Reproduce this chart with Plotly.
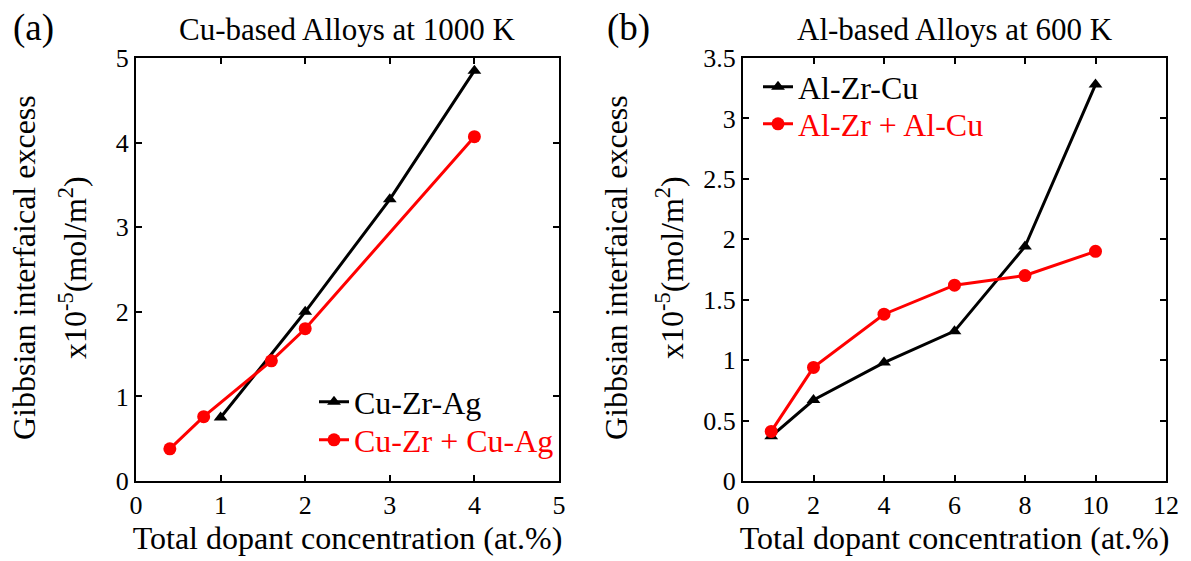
import plotly.graph_objects as go

# ---- data ----
cu_ternary_x = [1, 2, 3, 4]
cu_ternary_y = [0.75, 2.0, 3.33, 4.85]
cu_binary_x = [0.4, 0.8, 1.6, 2, 4]
cu_binary_y = [0.38, 0.76, 1.42, 1.80, 4.07]

al_ternary_x = [0.8, 2, 4, 6, 8, 10]
al_ternary_y = [0.37, 0.67, 0.98, 1.24, 1.94, 3.28]
al_binary_x = [0.8, 2, 4, 6, 8, 10]
al_binary_y = [0.41, 0.94, 1.38, 1.62, 1.70, 1.90]

W, H = 1191, 561
FONT = "'Liberation Serif', 'Times New Roman', Times, serif"
BLACK = "#000000"
RED = "#ff0000"

def px(x):
    return x / W

def py(y):
    return 1 - y / H

fig = go.Figure()

fig.add_trace(go.Scatter(x=cu_ternary_x, y=cu_ternary_y, mode="lines+markers",
                         name="Cu-Zr-Ag", line=dict(color=BLACK, width=3),
                         marker=dict(symbol="triangle-up", size=12, color=BLACK),
                         xaxis="x", yaxis="y", legend="legend"))
fig.add_trace(go.Scatter(x=cu_binary_x, y=cu_binary_y, mode="lines+markers",
                         name="<span style='color:#ff0000'>Cu-Zr + Cu-Ag</span>",
                         line=dict(color=RED, width=3),
                         marker=dict(symbol="circle", size=13, color=RED),
                         xaxis="x", yaxis="y", legend="legend2"))
fig.add_trace(go.Scatter(x=al_ternary_x, y=al_ternary_y, mode="lines+markers",
                         name="Al-Zr-Cu", line=dict(color=BLACK, width=3),
                         marker=dict(symbol="triangle-up", size=12, color=BLACK),
                         xaxis="x2", yaxis="y2", legend="legend3"))
fig.add_trace(go.Scatter(x=al_binary_x, y=al_binary_y, mode="lines+markers",
                         name="<span style='color:#ff0000'>Al-Zr + Al-Cu</span>",
                         line=dict(color=RED, width=3),
                         marker=dict(symbol="circle", size=13, color=RED),
                         xaxis="x2", yaxis="y2", legend="legend4"))

axis_common = dict(showline=True, linecolor=BLACK, linewidth=2, mirror="allticks",
                   ticks="inside", ticklen=6, tickwidth=2, tickcolor=BLACK,
                   showgrid=False, zeroline=False, automargin=False,
                   tickfont=dict(family=FONT, size=26, color=BLACK))

ydom = [py(481), py(58)]

def leg(xpix, ypix):
    return dict(x=px(xpix), y=py(ypix), xanchor="left", yanchor="middle",
                bgcolor="rgba(0,0,0,0)", borderwidth=0,
                font=dict(family=FONT, size=32, color=BLACK),
                itemwidth=30)

fig.update_layout(
    width=W, height=H,
    margin=dict(l=0, r=0, t=0, b=0, autoexpand=False),
    paper_bgcolor="white", plot_bgcolor="white",
    font=dict(family=FONT, color=BLACK),
    xaxis=dict(domain=[px(136), px(559)], range=[0, 5], dtick=1, anchor="y",
               title=dict(text="Total dopant concentration (at.%)",
                          font=dict(family=FONT, size=32), standoff=4),
               **axis_common),
    yaxis=dict(domain=ydom, range=[0, 5], dtick=1, anchor="x", **axis_common),
    xaxis2=dict(domain=[px(743), px(1166)], range=[0, 12], dtick=2, anchor="y2",
                title=dict(text="Total dopant concentration (at.%)",
                           font=dict(family=FONT, size=32), standoff=4),
                **axis_common),
    yaxis2=dict(domain=ydom, range=[0, 3.5], dtick=0.5, anchor="x2", **axis_common),
    legend=leg(314, 402),
    legend2=leg(314, 440),
    legend3=leg(758, 87),
    legend4=leg(758, 124),
    showlegend=True,
)

annotations = [
    dict(text="Cu-based Alloys at 1000 K", x=px(347), y=py(30)),
    dict(text="Al-based Alloys at 600 K", x=px(955), y=py(30)),
]
for a in annotations:
    a.update(xref="paper", yref="paper", showarrow=False, xanchor="center", yanchor="middle",
             font=dict(family=FONT, size=31, color=BLACK))

panel_labels = [
    dict(text="(a)", x=px(33), y=py(28)),
    dict(text="(b)", x=px(628), y=py(28)),
]
for a in panel_labels:
    a.update(xref="paper", yref="paper", showarrow=False, xanchor="center", yanchor="middle",
             font=dict(family=FONT, size=37, color=BLACK))

ytitles = [
    dict(text="Gibbsian interfaical excess", x=px(24), y=py(268)),
    dict(text="x10<sup>-5</sup>(mol/m<sup>2</sup>)", x=px(73), y=py(268)),
    dict(text="Gibbsian interfaical excess", x=px(616), y=py(268)),
    dict(text="x10<sup>-5</sup>(mol/m<sup>2</sup>)", x=px(670), y=py(268)),
]
for a in ytitles:
    a.update(xref="paper", yref="paper", showarrow=False, xanchor="center", yanchor="middle",
             textangle=-90, font=dict(family=FONT, size=32, color=BLACK))

fig.update_layout(annotations=annotations + panel_labels + ytitles)

fig.write_html("out.html",
               config={"displayModeBar": False},
               post_script="document.body.style.margin='0';document.body.style.overflow='hidden';")
